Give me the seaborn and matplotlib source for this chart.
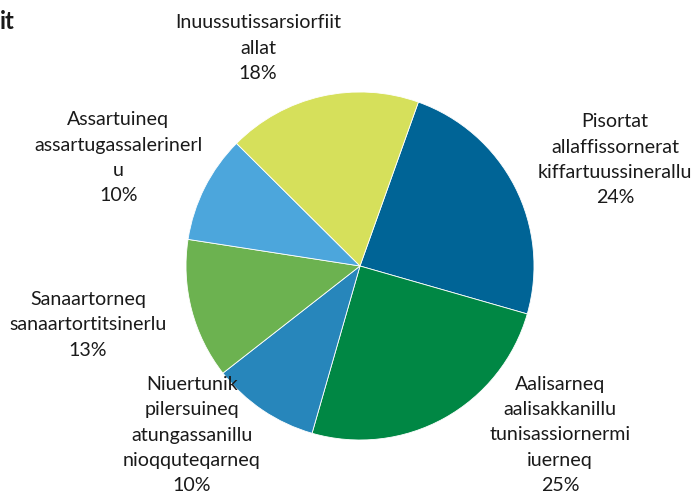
import matplotlib
matplotlib.use("Agg")
import matplotlib.pyplot as plt
import numpy as np
import seaborn as sns

labels = [
    "Pisortat\nallaffissornerat\nkiffartuussinerallu",
    "Aalisarneq\naalisakkanillu\ntunisassiornermi\niuerneq",
    "Niuertunik\npilersuineq\natungassanillu\nnioqquteqarneq",
    "Sanaartorneq\nsanaartortitsinerlu",
    "Assartuineq\nassartugassalerinerl\nu",
    "Inuussutissarsiorfiit\nallat",
]
shares = [24, 25, 10, 13, 10, 18]
colors = ["#006496", "#008744", "#2786bb", "#6cb250", "#4ca6dc", "#d6e05b"]

sns.set_theme(style="white")
plt.rcParams["font.family"] = ["Lato", "DejaVu Sans"]

fig = plt.figure(figsize=(6.94, 4.94), dpi=100)
ax = fig.add_axes([0, 0, 1, 1])

wedges, _ = ax.pie(
    shares,
    colors=colors,
    startangle=70.4,
    counterclock=False,
    radius=1,
    wedgeprops=dict(linewidth=0.6, edgecolor="white"),
)

# label placement: distance from centre in radii, angular nudge from wedge middle
label_dist = [1.587, 1.504, 1.370, 1.599, 1.523, 1.383]
label_shift = [-4.6, 20.8, -10.85, -2.4, 2.7, 12.3]
for w, lab, v, d, s in zip(wedges, labels, shares, label_dist, label_shift):
    ang = np.deg2rad((w.theta1 + w.theta2) / 2 + s)
    ax.text(d * np.cos(ang), d * np.sin(ang), f"{lab}\n{v}%",
            ha="center", va="center", fontsize=14.1, linespacing=1.6,
            color="#1a1a1a")

ax.set_xlim(-360 / 174, (694 - 360) / 174)
ax.set_ylim(-228 / 174, 266 / 174)
ax.set_aspect("equal")
ax.axis("off")

fig.text(0.0, 0.957, "it", ha="left", va="center", fontsize=17,
         fontweight="bold", color="#1a1a1a")

fig.savefig("out.png", dpi=100)
